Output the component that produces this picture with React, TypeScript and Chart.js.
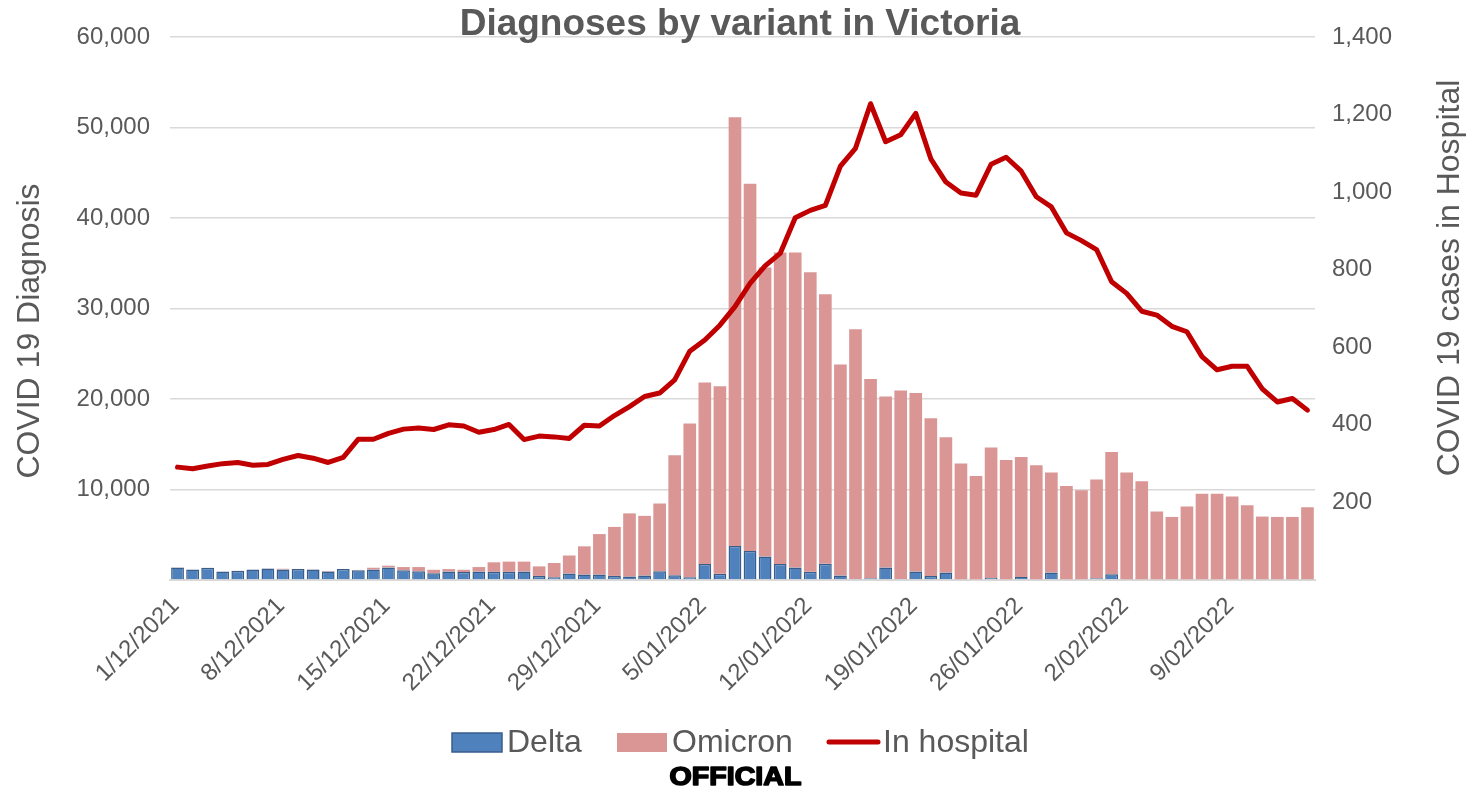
import React, { useEffect, useRef } from 'react';
import { Chart, registerables } from 'chart.js';

Chart.register(...registerables);

const dates = [
  '1/12/2021', '2/12/2021', '3/12/2021', '4/12/2021', '5/12/2021', '6/12/2021', '7/12/2021',
  '8/12/2021', '9/12/2021', '10/12/2021', '11/12/2021', '12/12/2021', '13/12/2021', '14/12/2021',
  '15/12/2021', '16/12/2021', '17/12/2021', '18/12/2021', '19/12/2021', '20/12/2021', '21/12/2021',
  '22/12/2021', '23/12/2021', '24/12/2021', '25/12/2021', '26/12/2021', '27/12/2021', '28/12/2021',
  '29/12/2021', '30/12/2021', '31/12/2021', '1/01/2022', '2/01/2022', '3/01/2022', '4/01/2022',
  '5/01/2022', '6/01/2022', '7/01/2022', '8/01/2022', '9/01/2022', '10/01/2022', '11/01/2022',
  '12/01/2022', '13/01/2022', '14/01/2022', '15/01/2022', '16/01/2022', '17/01/2022', '18/01/2022',
  '19/01/2022', '20/01/2022', '21/01/2022', '22/01/2022', '23/01/2022', '24/01/2022', '25/01/2022',
  '26/01/2022', '27/01/2022', '28/01/2022', '29/01/2022', '30/01/2022', '31/01/2022', '1/02/2022',
  '2/02/2022', '3/02/2022', '4/02/2022', '5/02/2022', '6/02/2022', '7/02/2022', '8/02/2022',
  '9/02/2022', '10/02/2022', '11/02/2022', '12/02/2022', '13/02/2022', '14/02/2022',
];

const delta = [
  1390, 1165, 1354, 940, 1015, 1165, 1278, 1165, 1203, 1165, 940, 1203, 1090, 1165,
  1391, 1090, 978, 752, 940, 880, 940, 902, 902, 940, 451, 300, 714, 602,
  602, 451, 376, 489, 978, 526, 300, 1767, 677, 3760, 3196, 2594, 1767, 1391,
  902, 1805, 489, 113, 188, 1391, 113, 940, 451, 827, 75, 0, 226, 0,
  338, 75, 827, 0, 75, 188, 639, 0, 0, 0, 0, 0, 0, 0,
  0, 0, 0, 0, 0, 0,
];

const omicron = [
  10, 5, 6, 5, 5, 5, 12, 75, 17, 15, 60, 17, 20, 190,
  188, 339, 451, 376, 263, 248, 489, 1053, 1128, 1090, 1053, 1580, 1993, 3120,
  4474, 5415, 6986, 6598, 7487, 13254, 16983, 20044, 20740, 47382, 40583, 31933, 34414, 34790,
  33114, 29770, 23330, 27604, 22017, 18885, 20832, 19729, 17423, 14960, 12799, 11496, 14420, 13268,
  13245, 12602, 11063, 10394, 9846, 10914, 13495, 11890, 10905, 7559, 6968, 8110, 9528, 9528,
  9213, 8268, 7008, 6968, 6968, 8031,
];

const hospital = [
  291, 287, 294, 300, 303, 296, 298, 311, 321, 314, 303, 316, 363, 363,
  378, 389, 392, 388, 400, 397, 381, 388, 401, 362, 371, 369, 365, 399,
  397, 424, 447, 473, 482, 516, 590, 619, 657, 705, 765, 810, 842, 934,
  953, 966, 1067, 1113, 1228, 1130, 1148, 1203, 1086, 1026, 998, 992, 1072, 1090,
  1054, 988, 962, 895, 875, 852, 769, 739, 693, 683, 654, 640, 576, 542,
  551, 551, 493, 459, 468, 438,
];

const FONT = "'Liberation Sans', Arial, sans-serif";
const GREY = '#595959';
const DELTA_FILL = '#4F81BD';
const DELTA_EDGE = '#385D8A';
const OMICRON_FILL = '#D99694';
const LINE_COLOR = '#C00000';

const textPlugin = {
  id: 'customTexts',
  afterDraw(chart: any) {
    const ctx = chart.ctx as CanvasRenderingContext2D;
    ctx.save();
    ctx.fillStyle = GREY;

    // Title
    ctx.font = `bold 37px ${FONT}`;
    ctx.textAlign = 'center';
    ctx.textBaseline = 'alphabetic';
    ctx.fillText('Diagnoses by variant in Victoria', 740, 35);

    // Left axis title
    ctx.font = `32px ${FONT}`;
    ctx.save();
    ctx.translate(39, 331);
    ctx.rotate(-Math.PI / 2);
    ctx.fillText('COVID 19 Diagnosis', 0, 0);
    ctx.restore();

    // Right axis title
    ctx.save();
    ctx.translate(1459, 278);
    ctx.rotate(-Math.PI / 2);
    ctx.fillText('COVID 19 cases in Hospital', 0, 0);
    ctx.restore();

    // Legend
    const legY = 742;
    ctx.textAlign = 'left';
    ctx.textBaseline = 'middle';
    ctx.font = `32px ${FONT}`;
    // Delta
    ctx.fillStyle = DELTA_FILL;
    ctx.fillRect(452, 733, 50, 19);
    ctx.strokeStyle = DELTA_EDGE;
    ctx.lineWidth = 1.5;
    ctx.strokeRect(452, 733, 50, 19);
    ctx.fillStyle = GREY;
    ctx.fillText('Delta', 507, legY + 1);
    // Omicron
    ctx.fillStyle = OMICRON_FILL;
    ctx.fillRect(617, 733, 50, 19);
    ctx.fillStyle = GREY;
    ctx.fillText('Omicron', 672, legY + 1);
    // In hospital
    ctx.strokeStyle = LINE_COLOR;
    ctx.lineWidth = 5;
    ctx.lineCap = 'round';
    ctx.beginPath();
    ctx.moveTo(829, 742);
    ctx.lineTo(878, 742);
    ctx.stroke();
    ctx.fillStyle = GREY;
    ctx.fillText('In hospital', 883, legY + 1);

    // OFFICIAL marking
    ctx.fillStyle = '#000000';
    ctx.strokeStyle = '#000000';
    ctx.lineWidth = 1.6;
    ctx.lineJoin = 'round';
    ctx.font = `900 26px ${FONT}`;
    ctx.textAlign = 'center';
    ctx.textBaseline = 'alphabetic';
    ctx.save();
    ctx.translate(735.5, 785);
    ctx.scale(1.1, 1);
    ctx.fillText('OFFICIAL', 0, 0);
    ctx.strokeText('OFFICIAL', 0, 0);
    ctx.restore();

    ctx.restore();
  },
};

export default function App() {
  const canvasRef = useRef<HTMLCanvasElement | null>(null);

  useEffect(() => {
    document.body.style.margin = '0';
    const canvas = canvasRef.current;
    if (!canvas) return;
    const chart = new Chart(canvas, {
      type: 'bar',
      data: {
        labels: dates,
        datasets: [
          {
            type: 'line',
            label: 'In hospital',
            data: hospital,
            yAxisID: 'y1',
            borderColor: LINE_COLOR,
            backgroundColor: LINE_COLOR,
            borderWidth: 5,
            pointRadius: 0,
            tension: 0,
            borderJoinStyle: 'round',
            borderCapStyle: 'round',
            order: 0,
          } as any,
          {
            type: 'bar',
            label: 'Delta',
            data: delta,
            yAxisID: 'y',
            backgroundColor: DELTA_FILL,
            borderColor: DELTA_EDGE,
            borderWidth: 1.5,
            barPercentage: 0.85,
            categoryPercentage: 1,
            stack: 'cases',
            order: 1,
          },
          {
            type: 'bar',
            label: 'Omicron',
            data: omicron,
            yAxisID: 'y',
            backgroundColor: OMICRON_FILL,
            borderWidth: 0,
            barPercentage: 0.84,
            categoryPercentage: 1,
            stack: 'cases',
            order: 2,
          },
        ],
      },
      options: {
        animation: false,
        responsive: true,
        maintainAspectRatio: false,
        devicePixelRatio: 1,
        layout: { padding: { top: 37, left: 0, right: 0, bottom: 0 } },
        plugins: {
          legend: { display: false },
          title: { display: false },
          tooltip: { enabled: false },
        },
        scales: {
          x: {
            stacked: true,
            grid: { display: false, drawTicks: false },
            border: { display: true, color: '#D9D9D9', width: 2 },
            ticks: {
              autoSkip: false,
              maxRotation: 45,
              minRotation: 45,
              padding: 12,
              labelOffset: -2,
              color: GREY,
              font: { family: FONT, size: 24 },
              callback: (_v: any, i: number) => (i % 7 === 0 ? dates[i] : ''),
            },
            afterFit: (s: any) => {
              s.height = 787 - 580;
            },
          },
          y: {
            stacked: true,
            position: 'left',
            min: 0,
            max: 60000,
            grid: { color: '#D9D9D9', lineWidth: 1.5, drawTicks: false },
            border: { display: false },
            ticks: {
              stepSize: 10000,
              padding: 20,
              color: GREY,
              font: { family: FONT, size: 24 },
              callback: (v: any) => (v === 0 ? '' : Number(v).toLocaleString('en-US')),
            },
            afterFit: (s: any) => {
              s.width = 170;
            },
          },
          y1: {
            position: 'right',
            min: 0,
            max: 1400,
            grid: { display: false, drawTicks: false },
            border: { display: false },
            ticks: {
              stepSize: 200,
              padding: 17,
              color: GREY,
              font: { family: FONT, size: 24 },
              callback: (v: any) => (v === 0 ? '' : Number(v).toLocaleString('en-US')),
            },
            afterFit: (s: any) => {
              s.width = 1471 - 1315;
            },
          },
        },
      },
      plugins: [textPlugin],
    });
    return () => chart.destroy();
  }, []);

  return (
    <div style={{ width: 1471, height: 787, position: 'relative', background: '#FFFFFF' }}>
      <canvas ref={canvasRef} />
    </div>
  );
}
